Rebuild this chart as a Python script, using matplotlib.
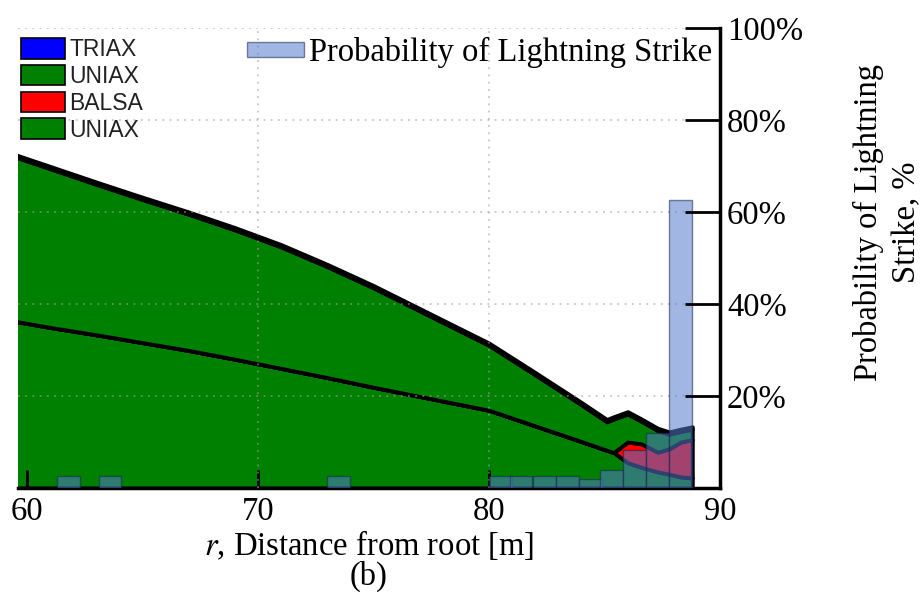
import matplotlib
import matplotlib.pyplot as plt
from matplotlib.patches import Patch

matplotlib.use("Agg")

plt.rcParams["font.family"] = ["Liberation Serif", "DejaVu Serif"]
plt.rcParams["mathtext.fontset"] = "stix"

# Laminate layer thickness along the span (stacked, bottom to top)
r_pos = [59.4, 61, 63, 65, 67, 69, 71, 73, 75, 77, 79, 80, 82, 84,
         85.1, 85.4, 86.0, 86.6, 87.3, 87.8, 88.3, 88.8]
uniax_lower = [36.3, 34.9, 33.3, 31.6, 29.9, 28.0, 26.0, 24.0, 21.9, 19.9, 17.9,
               16.9, 13.5, 10.1, 8.2, 7.7, 5.5, 4.5, 3.5, 3.0, 2.4, 2.2]
balsa = [0, 0, 0, 0, 0, 0, 0, 0, 0, 0, 0, 0, 0, 0,
         0, 0, 4.5, 5.1, 4.3, 5.5, 7.6, 8.3]
uniax_upper = [35.8, 34.5, 32.7, 31.1, 29.6, 28.1, 26.4, 24.1, 21.6, 18.6, 15.6,
               14.1, 11.1, 8.0, 6.2, 7.3, 6.1, 4.9, 4.7, 3.2, 2.3, 2.3]
triax = [0.5] * len(r_pos)
layer_names = ["UNIAX", "BALSA", "UNIAX", "TRIAX"]
layer_colors = ["#008000", "#ff0000", "#008000", "#0000ff"]

# Lightning strike probability histogram (%)
bin_left = [61.3, 63.1, 73.0, 80.0, 80.9, 81.9, 82.9, 83.9, 84.8, 85.8, 86.8, 87.8]
strike_prob = [2.7, 2.7, 2.7, 2.6, 2.6, 2.6, 2.6, 2.0, 3.9, 8.3, 12.0, 62.7]

x_ticks = [60, 70, 80, 90]
y_ticks = [20, 40, 60, 80, 100]

FS = 23.5

fig = plt.figure(figsize=(9.22, 5.95), dpi=100)
ax = fig.add_axes([18 / 922, 1 - 488 / 595, 702 / 922, 460 / 595])
ax2 = ax.twinx()

ax.stackplot(r_pos, uniax_lower, balsa, uniax_upper, triax,
             colors=layer_colors, edgecolor="black", linewidth=2.8)
ax.set_xlim(59.6, 90)
ax.set_ylim(0, 100)
ax.set_yticks([])
ax.set_xticks(x_ticks)
ax.tick_params(axis="x", direction="in", length=13, width=2, pad=6, labelsize=FS)
for s in ["left", "top", "right"]:
    ax.spines[s].set_visible(False)
ax.spines["bottom"].set_linewidth(2.5)
ax.set_xlabel("$r$, Distance from root [m]", fontsize=FS, labelpad=1)

# grid drawn over the layers, faint
for yv in y_ticks:
    ax.axhline(yv, color="#a0a0a0", linestyle=(0, (1, 3)), linewidth=1.3, alpha=0.6, zorder=5)
for xv in x_ticks[1:-1]:
    ax.axvline(xv, color="#a0a0a0", linestyle=(0, (1, 3)), linewidth=1.3, alpha=0.6, zorder=5)

ax2.bar(bin_left, strike_prob, width=0.98, align="edge", color=(0.33, 0.48, 0.8),
        alpha=0.55, edgecolor="#1b2450", linewidth=1.0,
        label="Probability of Lightning Strike")
ax2.set_ylim(0, 100)
ax2.set_yticks(y_ticks)
ax2.set_yticklabels([f"{v}%" for v in y_ticks])
ax2.tick_params(axis="y", direction="in", length=25, width=2, pad=5, labelsize=FS)
for s in ["left", "top", "bottom"]:
    ax2.spines[s].set_visible(False)
ax2.spines["right"].set_linewidth(2.5)
ax2.set_ylabel("Probability of Lightning\nStrike, %", fontsize=FS, linespacing=1.3)
ax2.yaxis.set_label_coords(1.19, 0.578)

handles = [Patch(facecolor=layer_colors[i], edgecolor="black", linewidth=1.2)
           for i in range(3, -1, -1)]
labels = [layer_names[i] for i in range(3, -1, -1)]
leg1 = ax2.legend(handles, labels, loc="upper left", bbox_to_anchor=(-0.0085, 0.998),
                  frameon=False, prop={"family": "Liberation Sans", "size": 16.5},
                  handlelength=1.9, handleheight=1.0, handletextpad=0.2,
                  labelspacing=0.16, borderaxespad=0)
for t in leg1.get_texts():
    t.set_color("#222222")
ax2.add_artist(leg1)
ax2.legend(loc="upper right", bbox_to_anchor=(1.007, 1.009), frameon=False,
           fontsize=FS, handlelength=1.75, handleheight=0.34, handletextpad=0.15,
           borderaxespad=0)

fig.text(369 / 922, 1 - 576 / 595, "(b)", ha="center", va="center", fontsize=FS)

fig.savefig("out.png", dpi=100)
